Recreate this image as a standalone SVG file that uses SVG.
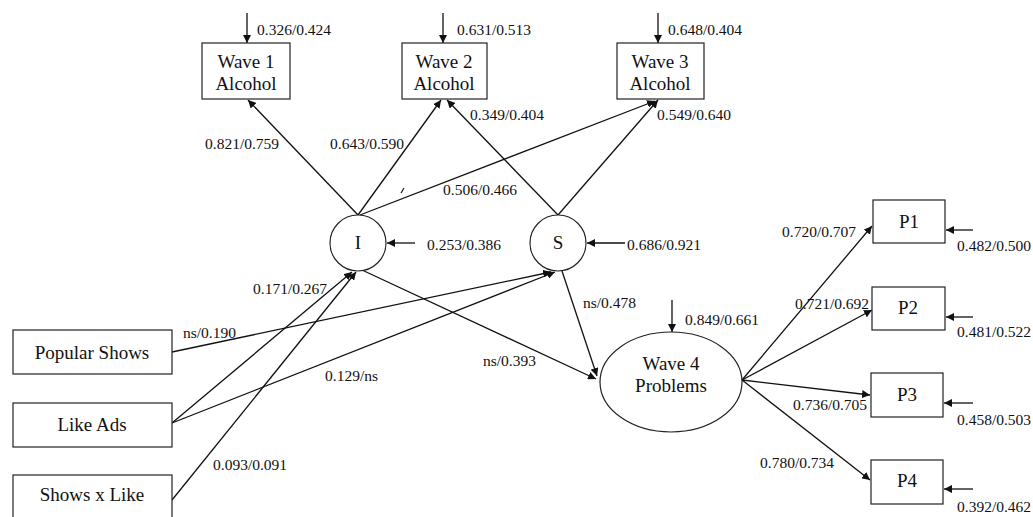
<svg xmlns="http://www.w3.org/2000/svg" width="1033" height="517" viewBox="0 0 1033 517">
<style>
.box{fill:#fff;stroke:#222;stroke-width:1.2}
.lat{fill:#fff;stroke:#222;stroke-width:1.2}
.n{font-family:"Liberation Serif",serif;font-size:19px;fill:#111;text-anchor:middle}
.l{font-family:"Liberation Serif",serif;font-size:15.5px;fill:#111}
.c{stroke:#111;stroke-width:1.3;fill:none;marker-end:url(#ah)}
</style>
<defs>
<marker id="ah" viewBox="0 0 10 10" refX="10" refY="5" markerWidth="8" markerHeight="8" markerUnits="userSpaceOnUse" orient="auto">
<path d="M0,0 L10,5 L0,10 z" fill="#111"/>
</marker>
</defs>
<g id="connectors">
<line class="c" x1="247" y1="13" x2="247" y2="43"/>
<line class="c" x1="443" y1="13" x2="443" y2="43"/>
<line class="c" x1="658" y1="13" x2="658" y2="43"/>
<line class="c" x1="358" y1="215" x2="248" y2="100"/>
<line class="c" x1="358" y1="215" x2="441" y2="100"/>
<line class="c" x1="558" y1="215" x2="447" y2="100"/>
<line class="c" x1="360" y1="215" x2="655" y2="101"/>
<line class="c" x1="558" y1="215" x2="658" y2="100"/>
<line x1="401" y1="193" x2="404" y2="188" stroke="#111" stroke-width="1.2"/>
<line class="c" x1="415" y1="243" x2="387" y2="243"/>
<line class="c" x1="625" y1="243" x2="587" y2="243"/>
<line class="c" x1="172" y1="352" x2="551" y2="272"/>
<line class="c" x1="172" y1="423" x2="352" y2="272"/>
<line class="c" x1="172" y1="423" x2="555" y2="272"/>
<line class="c" x1="172" y1="500" x2="356" y2="272"/>
<line class="c" x1="362" y1="270" x2="596" y2="379"/>
<line class="c" x1="562" y1="271" x2="597" y2="376"/>
<line class="c" x1="672" y1="300" x2="672" y2="332"/>
<line class="c" x1="742" y1="380" x2="872" y2="226"/>
<line class="c" x1="742" y1="380" x2="872" y2="310"/>
<line class="c" x1="742" y1="380" x2="870" y2="395"/>
<line class="c" x1="742" y1="380" x2="870" y2="480"/>
<line class="c" x1="973" y1="230" x2="946" y2="230"/>
<line class="c" x1="973" y1="317" x2="946" y2="317"/>
<line class="c" x1="973" y1="403" x2="944" y2="403"/>
<line class="c" x1="973" y1="489" x2="944" y2="489"/>
</g>
<g id="wave1"><rect class="box" x="202" y="43" width="88" height="56"/><text class="n" x="246" y="68">Wave 1</text><text class="n" x="246" y="90">Alcohol</text></g>
<g id="wave2"><rect class="box" x="402" y="43" width="85" height="56"/><text class="n" x="444" y="68">Wave 2</text><text class="n" x="444" y="90">Alcohol</text></g>
<g id="wave3"><rect class="box" x="617" y="43" width="87" height="56"/><text class="n" x="660" y="68">Wave 3</text><text class="n" x="660" y="90">Alcohol</text></g>
<g id="I"><circle class="lat" cx="358" cy="243" r="28"/><text class="n" x="358" y="249">I</text></g>
<g id="S"><circle class="lat" cx="558" cy="243" r="28"/><text class="n" x="558" y="249">S</text></g>
<g id="popular"><rect class="box" x="13" y="330" width="159" height="44"/><text class="n" x="92" y="359">Popular Shows</text></g>
<g id="likeads"><rect class="box" x="13" y="403" width="159" height="44"/><text class="n" x="92" y="431">Like Ads</text></g>
<g id="showsxlike"><rect class="box" x="13" y="475" width="159" height="50"/><text class="n" x="92" y="501">Shows x Like</text></g>
<g id="wave4"><ellipse class="lat" cx="671" cy="382" rx="71" ry="50"/><text class="n" x="671" y="370">Wave 4</text><text class="n" x="671" y="392">Problems</text></g>
<g id="p1"><rect class="box" x="873" y="200" width="72" height="43"/><text class="n" x="909" y="228">P1</text></g>
<g id="p2"><rect class="box" x="872" y="287" width="73" height="43"/><text class="n" x="908" y="314">P2</text></g>
<g id="p3"><rect class="box" x="871" y="373" width="72" height="44"/><text class="n" x="907" y="401">P3</text></g>
<g id="p4"><rect class="box" x="871" y="460" width="72" height="44"/><text class="n" x="907" y="487">P4</text></g>
<g id="labels">
<text class="l" x="257" y="35">0.326/0.424</text>
<text class="l" x="457" y="35">0.631/0.513</text>
<text class="l" x="668" y="35">0.648/0.404</text>
<text class="l" x="205" y="149">0.821/0.759</text>
<text class="l" x="330" y="149">0.643/0.590</text>
<text class="l" x="470" y="120">0.349/0.404</text>
<text class="l" x="657" y="120">0.549/0.640</text>
<text class="l" x="443" y="195">0.506/0.466</text>
<text class="l" x="427" y="250">0.253/0.386</text>
<text class="l" x="627" y="250">0.686/0.921</text>
<text class="l" x="253" y="294">0.171/0.267</text>
<text class="l" x="583" y="308">ns/0.478</text>
<text class="l" x="183" y="338">ns/0.190</text>
<text class="l" x="325" y="381">0.129/ns</text>
<text class="l" x="483" y="366">ns/0.393</text>
<text class="l" x="213" y="470">0.093/0.091</text>
<text class="l" x="685" y="325">0.849/0.661</text>
<text class="l" x="782" y="237">0.720/0.707</text>
<text class="l" x="795" y="309">0.721/0.692</text>
<text class="l" x="793" y="410">0.736/0.705</text>
<text class="l" x="760" y="468">0.780/0.734</text>
<text class="l" x="957" y="251">0.482/0.500</text>
<text class="l" x="957" y="337">0.481/0.522</text>
<text class="l" x="957" y="425">0.458/0.503</text>
<text class="l" x="957" y="512">0.392/0.462</text>
</g>
</svg>
